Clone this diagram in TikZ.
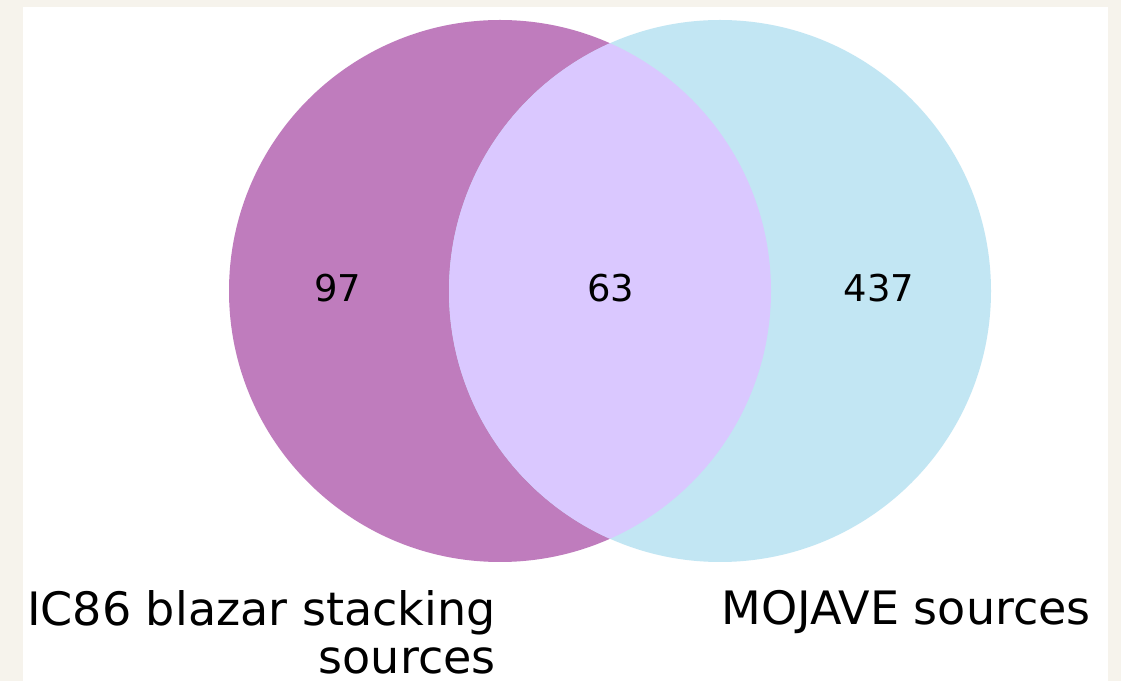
\documentclass[tikz,border=0pt]{standalone}
\usepackage{fontspec}
\setmainfont{DejaVu Sans}
\usepackage{tikz}
\usetikzlibrary{positioning}
\usepackage{xcolor}
\definecolor{pagebeige}{RGB}{246,243,236}
\definecolor{icpurple}{RGB}{191,124,189}
\definecolor{mojblue}{RGB}{194,230,243}
\definecolor{overlaplav}{RGB}{218,200,255}

\begin{document}
\begin{tikzpicture}[
    setcircle/.style={circle, minimum size=10.84cm, inner sep=0pt},
    count/.style={font=\fontsize{21}{25}\selectfont, inner sep=0pt},
    setlabel/.style={font=\fontsize{26.2}{27.8}\selectfont, inner sep=0pt}
]
\useasboundingbox (0,0) rectangle (22.42,13.62);
\fill[pagebeige] (0,0) rectangle (22.42,13.62);
\fill[white] (0.46,0) rectangle (22.16,13.48);
% the two sets
\node[setcircle, fill=icpurple] (ic86) at (10.0,7.80) {};
\node[setcircle, fill=mojblue] (mojave) at (14.4,7.80) {};
\begin{scope}
    \clip (ic86.center) circle (5.42);
    \fill[overlaplav] (mojave.center) circle (5.42);
\end{scope}
% region counts
\node[count] (onlyic) at (6.76,7.86) {97};
\node[count] (both) at (12.21,7.86) {63};
\node[count] (onlymoj) at (17.58,7.86) {437};
% set names
\node[setlabel, anchor=base east, align=right] (iclabel) at (9.92,0.14)
    {IC86 blazar stacking\\sources};
\node[setlabel, anchor=base west] (mojlabel) at (14.42,1.12) {MOJAVE sources};
\end{tikzpicture}
\end{document}
